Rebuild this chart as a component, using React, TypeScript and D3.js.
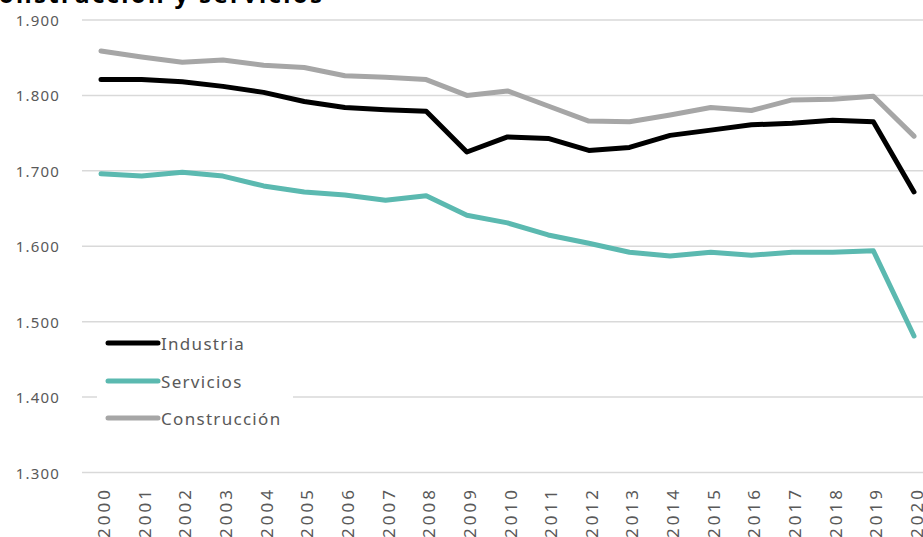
import React from "react";
import * as d3 from "d3";

const years = [2000, 2001, 2002, 2003, 2004, 2005, 2006, 2007, 2008, 2009, 2010, 2011, 2012, 2013, 2014, 2015, 2016, 2017, 2018, 2019, 2020];
const industria = [1821, 1821, 1818, 1812, 1804, 1792, 1784, 1781, 1779, 1725, 1745, 1743, 1727, 1731, 1747, 1754, 1761, 1763, 1767, 1765, 1672];
const servicios = [1696, 1693, 1698, 1693, 1680, 1672, 1668, 1661, 1667, 1641, 1631, 1615, 1604, 1592, 1587, 1592, 1588, 1592, 1592, 1594, 1481];
const construccion = [1859, 1851, 1844, 1847, 1840, 1837, 1826, 1824, 1821, 1800, 1806, 1786, 1766, 1765, 1774, 1784, 1780, 1794, 1795, 1799, 1746];
const yTicks = [1300, 1400, 1500, 1600, 1700, 1800, 1900];
const seriesNames = ["Industria", "Servicios", "Construcción"];
const seriesColors = ["#000000", "#5BB9B0", "#A6A6A6"];
const title = "Construcción y servicios";

const W = 923;
const H = 537;

export default function App() {
  const x = d3.scalePoint<number>().domain(years).range([101, 914]);
  const y = d3.scaleLinear().domain([1300, 1900]).range([472.5, 20]);
  const fmt = (v: number) => d3.format(",")(v).replace(",", ".");
  const line = d3
    .line<number>()
    .x((_, i) => x(years[i]) as number)
    .y((d) => y(d));
  const data = [industria, servicios, construccion];
  const font = "'Noto Sans', sans-serif";
  const legendY = [343, 381, 418];

  return (
    <svg
      width={W}
      height={H}
      style={{ position: "absolute", left: 0, top: 0, background: "#fff" }}
    >
      <text x={-19} y={3} fontFamily={font} fontWeight={700} fontSize={24} letterSpacing={2.3} fill="#000">
        {title}
      </text>
      {yTicks.map((t) => (
        <g key={t}>
          <line x1={82} x2={W} y1={y(t)} y2={y(t)} stroke="#D9D9D9" strokeWidth={1.5} />
          <text
            x={60}
            y={y(t)}
            textAnchor="end"
            dominantBaseline="central"
            fontFamily={font}
            fontSize={15}
            letterSpacing={1.2}
            fill="#595959"
          >
            {fmt(t)}
          </text>
        </g>
      ))}
      {years.map((yr) => (
        <text
          key={yr}
          transform={`translate(${(x(yr) as number) + 2.5},487) rotate(-90)`}
          textAnchor="end"
          dominantBaseline="central"
          fontFamily={font}
          fontSize={17}
          letterSpacing={3}
          fill="#595959"
        >
          {yr}
        </text>
      ))}
      {data.map((d, i) => (
        <path
          key={i}
          d={line(d) || ""}
          fill="none"
          stroke={seriesColors[i]}
          strokeWidth={5}
          strokeLinejoin="round"
          strokeLinecap="round"
        />
      ))}
      <rect x={97} y={326} width={196} height={106} fill="#fff" />
      {seriesNames.map((n, i) => (
        <g key={n}>
          <line
            x1={108}
            x2={158}
            y1={legendY[i]}
            y2={legendY[i]}
            stroke={seriesColors[i]}
            strokeWidth={5}
            strokeLinecap="round"
          />
          <text
            x={161}
            y={legendY[i]}
            dominantBaseline="central"
            fontFamily={font}
            fontSize={17}
            letterSpacing={1.3}
            fill="#595959"
          >
            {n}
          </text>
        </g>
      ))}
    </svg>
  );
}
